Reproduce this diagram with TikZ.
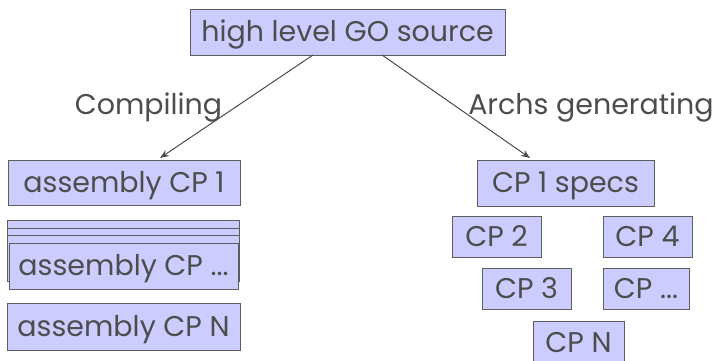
\documentclass[tikz,border=0pt]{standalone}
\usepackage{fontspec}
\setmainfont{Poppins}
\usetikzlibrary{arrows.meta}
\definecolor{boxfill}{HTML}{CCCCFF}
\definecolor{boxline}{HTML}{5E5E5E}
\definecolor{txt}{HTML}{4D4D4D}
\definecolor{arr}{HTML}{4A4A4A}
\begin{document}
\begin{tikzpicture}[x=1pt,y=-1pt,
  bx/.style={draw=boxline,fill=boxfill,line width=0.9pt,inner sep=0pt,text=txt,
    text height=20pt,text depth=1pt,font=\fontsize{28.5}{30}\selectfont},
  lbl/.style={text=txt,inner sep=0pt,text height=20pt,text depth=1pt,font=\fontsize{28.5}{30}\selectfont},
  conn/.style={draw=arr,line width=1pt,-{Stealth[length=9pt,width=7pt,inset=3pt]}}]
\useasboundingbox (0,0) rectangle (715,361);
\node[bx,minimum width=315pt,minimum height=46pt] (top) at (347.5,32) {high level GO source};
\node[bx,minimum width=232pt,minimum height=45pt] (a1) at (124,182.5) {assembly CP 1};
\node[bx,minimum width=232pt,minimum height=46pt] (b1) at (123,243) {};
\node[bx,minimum width=232pt,minimum height=46pt] (b2) at (123,251) {};
\node[bx,minimum width=232pt,minimum height=46pt] (b3) at (123,258.5) {};
\node[bx,minimum width=229pt,minimum height=46pt] (a2) at (123.5,266) {assembly CP ...};
\node[bx,minimum width=233pt,minimum height=47pt] (aN) at (123.5,326.5) {assembly CP N};
\node[bx,minimum width=177pt,minimum height=46pt] (c1) at (565.5,183) {CP 1 specs};
\node[bx,minimum width=89pt,minimum height=41pt] (c2) at (496.5,236.5) {CP 2};
\node[bx,minimum width=89pt,minimum height=41pt] (c4) at (647.5,236.5) {CP 4};
\node[bx,minimum width=89pt,minimum height=41pt] (c3) at (526.5,288.5) {CP 3};
\node[bx,minimum width=86pt,minimum height=41pt] (cd) at (646,288.5) {CP ...};
\node[bx,minimum width=91pt,minimum height=44pt] (cN) at (578.5,343) {CP N};
\coordinate (s1) at (313,55);
\coordinate (s2) at (382,55);
\coordinate (e1) at (160,158);
\coordinate (e2) at (530,158);
\draw[conn] (s1) -- (e1);
\draw[conn] (s2) -- (e2);
\node[lbl] (l1) at (148.5,105) {Compiling};
\node[lbl] (l2) at (591,105) {Archs generating};
\end{tikzpicture}
\end{document}
